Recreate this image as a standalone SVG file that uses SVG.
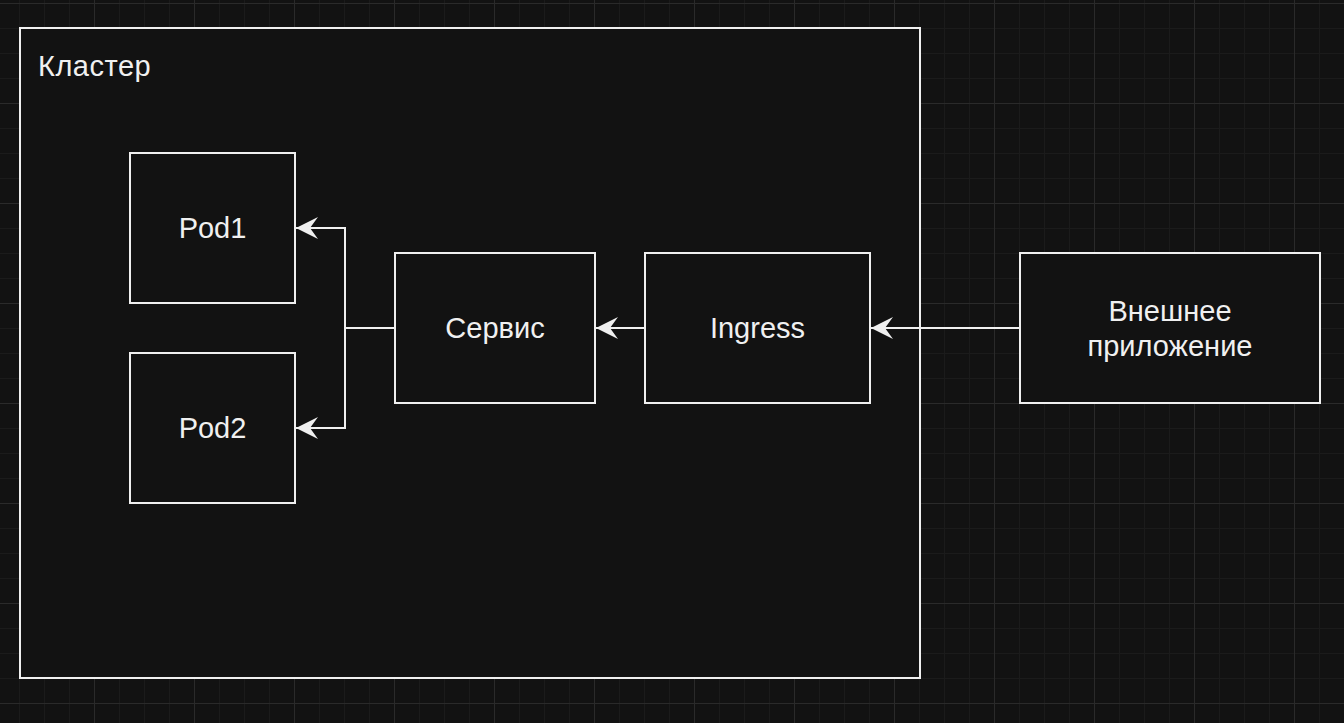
<svg xmlns="http://www.w3.org/2000/svg" width="1344" height="723" viewBox="0 0 1344 723">
<defs>
<pattern id="minor" width="25" height="25" patternUnits="userSpaceOnUse" x="19" y="3">
<path d="M0.5,0 V25 M0,0.5 H25" fill="none" stroke="#1b1b1b" stroke-width="1"/>
</pattern>
<pattern id="major" width="100" height="100" patternUnits="userSpaceOnUse" x="94" y="3">
<path d="M0.5,0 V100 M0,0.5 H100" fill="none" stroke="#2a2a2a" stroke-width="1"/>
</pattern>
<marker id="arr" viewBox="0 -11 23 22" refX="22" refY="0" markerWidth="23" markerHeight="22" markerUnits="userSpaceOnUse" orient="auto">
<path d="M0,-11 L22,0 L0,11 L8,0 Z" fill="#f0f0f0"/>
</marker>
<style>
.box{fill:#121212;stroke:#f0f0f0;stroke-width:2}
.lbl{font-family:"Liberation Sans",Arial,sans-serif;font-size:29px;fill:#f0f0f0;text-anchor:middle}
.edge{fill:none;stroke:#f0f0f0;stroke-width:2;marker-end:url(#arr)}
</style>
</defs>
<rect width="1344" height="723" fill="#121212"/>
<rect width="1344" height="723" fill="url(#minor)"/>
<rect width="1344" height="723" fill="url(#major)"/>
<g id="cluster">
<rect class="box" x="20" y="28" width="900" height="650"/>
<text class="lbl" x="38" y="76" style="text-anchor:start;letter-spacing:0.5px">Кластер</text>
</g>
<g id="pod1">
<rect class="box" x="130" y="153" width="165" height="150"/>
<text class="lbl" x="212.5" y="238">Pod1</text>
</g>
<g id="pod2">
<rect class="box" x="130" y="353" width="165" height="150"/>
<text class="lbl" x="212.5" y="438">Pod2</text>
</g>
<g id="service">
<rect class="box" x="395" y="253" width="200" height="150"/>
<text class="lbl" x="495" y="338">Сервис</text>
</g>
<g id="ingress">
<rect class="box" x="645" y="253" width="225" height="150"/>
<text class="lbl" x="757.5" y="338">Ingress</text>
</g>
<g id="external">
<rect class="box" x="1020" y="253" width="300" height="150"/>
<text class="lbl" x="1170" y="321">Внешнее</text>
<text class="lbl" x="1170" y="356">приложение</text>
</g>
<g id="connectors">
<path class="edge" d="M395,328 H345 V228 H296"/>
<path class="edge" d="M395,328 H345 V428 H296"/>
<path class="edge" d="M645,328 H596"/>
<path class="edge" d="M1020,328 H871"/>
</g>
</svg>
